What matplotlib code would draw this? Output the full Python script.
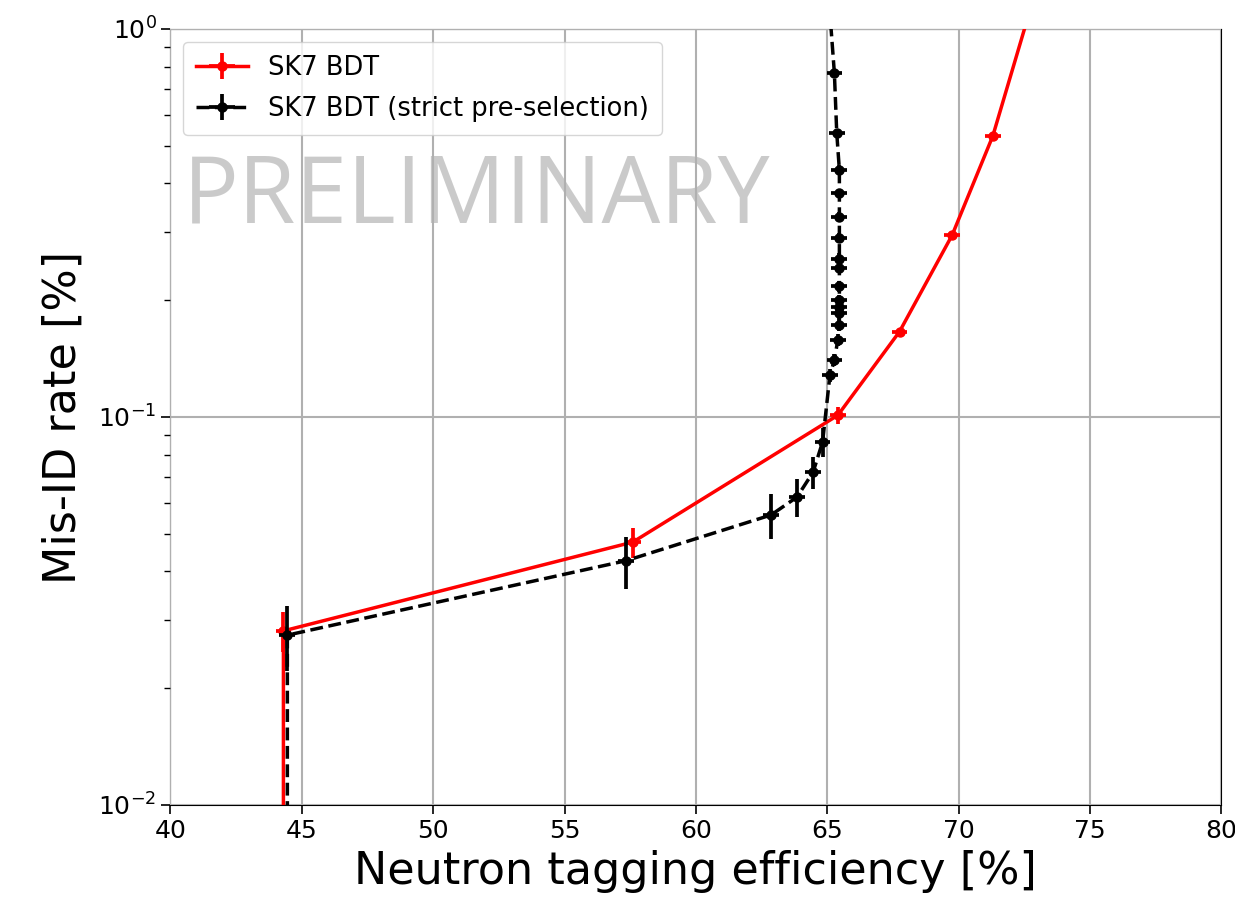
import numpy as np
import matplotlib
matplotlib.use("Agg")
import matplotlib.pyplot as plt

# SK7 BDT working points
bdt_eff = [44.3, 44.3, 57.6, 65.4, 67.75, 69.75, 71.3, 74.0]
bdt_mis = [0.001, 0.0281, 0.0476, 0.101, 0.166, 0.294, 0.53, 2.2]
bdt_err = [0.0, 0.0033, 0.0042, 0.005, 0.004, 0.005, 0.006, 0.01]

# SK7 BDT with the strict pre-selection
strict_eff = [44.45, 44.45, 57.33, 62.86, 63.85, 64.46, 64.82,
              65.1, 65.27, 65.4, 65.46, 65.46, 65.46, 65.46, 65.46,
              65.46, 65.46, 65.46, 65.46, 65.46, 65.46, 65.36, 65.27, 64.95]
strict_mis = [0.001, 0.0274, 0.0426, 0.0559, 0.0622, 0.0721, 0.0862,
              0.128, 0.140, 0.158, 0.173, 0.185, 0.192, 0.200, 0.217,
              0.242, 0.256, 0.289, 0.328, 0.377, 0.433, 0.539, 0.769, 1.5]
strict_err = [0.0, 0.0052, 0.0065, 0.0075, 0.007, 0.0068, 0.0075,
              0.005, 0.005, 0.0055, 0.006, 0.006, 0.006, 0.0065, 0.007,
              0.0075, 0.008, 0.009, 0.01, 0.011, 0.012, 0.014, 0.018, 0.03]

fig = plt.figure(figsize=(12.35, 9.05), dpi=100)
ax = fig.add_axes([0.138, 0.1105, 0.851, 0.8575])

ax.errorbar(bdt_eff, bdt_mis, yerr=bdt_err, xerr=0.3, color="red", marker="o",
            markersize=6.5, linewidth=2.5, elinewidth=2.7, label="SK7 BDT", zorder=3)
ax.errorbar(strict_eff, strict_mis, yerr=strict_err, xerr=0.3, color="black",
            marker="o", markersize=6.5, linewidth=2.5, elinewidth=2.7, linestyle="--",
            label="SK7 BDT (strict pre-selection)", zorder=4)

ax.set_yscale("log")
ax.set_xlim(40, 80)
ax.set_ylim(1e-2, 1)
ax.grid(True, which="major", color="#b0b0b0", linewidth=1.5, zorder=2)
ax.set_axisbelow(False)
ax.tick_params(which="major", labelsize=18, length=6.5, width=1.2)
ax.tick_params(which="minor", length=4, width=1)
ax.set_xlabel("Neutron tagging efficiency [%]", fontsize=32, labelpad=5)
ax.set_ylabel("Mis-ID rate [%]", fontsize=32, labelpad=10)

ax.text(0.012, 0.751, "PRELIMINARY", transform=ax.transAxes, fontsize=67,
        family="Open Sans", color="#a0a0a0", alpha=0.55, zorder=1)

ax.legend(loc="upper left", fontsize=18.5, labelspacing=0.6, borderpad=0.5)

fig.savefig("out.png", dpi=100)
